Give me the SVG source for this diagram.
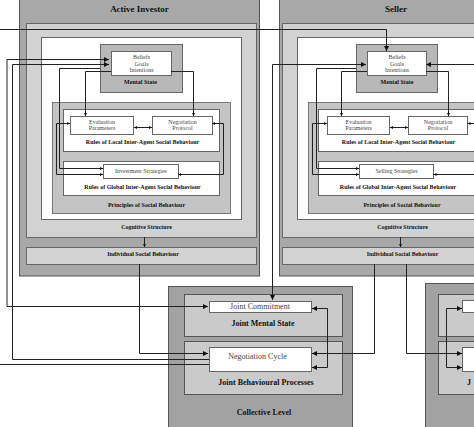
<svg xmlns="http://www.w3.org/2000/svg" width="474" height="427" viewBox="0 0 474 427">
<defs>
<style>
.ag{fill:#a8a8a8;stroke:#555;stroke-width:1}
.cog{fill:#d2d2d2;stroke:#666;stroke-width:1}
.wh{fill:#fff;stroke:#666;stroke-width:1}
.ms{fill:#b8b8b8;stroke:#666;stroke-width:1}
.pr{fill:#c4c4c4;stroke:#777;stroke-width:1}
.col{fill:#a2a2a2;stroke:#555;stroke-width:1}
.jb{fill:#cacaca;stroke:#555;stroke-width:1}
text{font-family:"Liberation Serif","Times New Roman",serif;text-anchor:middle}
.lb{font-size:6px;font-weight:bold;fill:#111}
.tx{font-size:6px;fill:#444}
.ti{font-size:9px;font-weight:bold;fill:#111}
.cl{font-size:8px;font-weight:bold;fill:#111}
.ct{font-size:8px;fill:#444}
.cn{fill:none;stroke:#222;stroke-width:1}
</style>
<marker id="big" viewBox="0 0 10 10" refX="10" refY="5" markerWidth="6" markerHeight="5" markerUnits="userSpaceOnUse" orient="auto-start-reverse"><path d="M0,0 L10,5 L0,10 z" fill="#111"/></marker>
<marker id="sm" viewBox="0 0 10 10" refX="10" refY="5" markerWidth="3.5" markerHeight="3" markerUnits="userSpaceOnUse" orient="auto-start-reverse"><path d="M0,0 L10,5 L0,10 z" fill="#111"/></marker>
</defs>
<rect width="474" height="427" fill="#fff"/>

<g id="active-investor">
<rect class="ag" x="19.5" y="-2" width="240" height="278"/>
<text class="ti" x="139.5" y="11.5">Active Investor</text>
<g id="ai-cognitive-structure">
<rect class="cog" x="26.5" y="23.5" width="230" height="214"/>
<rect class="wh" x="41.5" y="37.5" width="200" height="182"/>
<text class="lb" x="146.5" y="229">Cognitive Structure</text>
</g>
<g id="ai-mental-state">
<rect class="ms" x="100.5" y="44.5" width="82" height="48"/>
<text class="lb" x="140.5" y="84">Mental State</text>
</g>
<g id="ai-beliefs">
<rect class="wh" x="111.5" y="51.5" width="60" height="24"/>
<text class="tx" x="141.5" y="59">Beliefs</text>
<text class="tx" x="141.5" y="65.5">Goals</text>
<text class="tx" x="141.5" y="72">Intentions</text>
</g>
<g id="ai-principles">
<rect class="pr" x="52.5" y="102.5" width="178" height="111"/>
<text class="lb" x="146.5" y="207">Principles of Social Behaviour</text>
</g>
<g id="ai-rules-local">
<rect class="wh" x="63.5" y="109.5" width="156" height="42"/>
<text class="lb" x="142.5" y="144">Rules of Local Inter-Agent Social Behaviour</text>
</g>
<g id="ai-evaluation">
<rect class="wh" x="70.5" y="116.5" width="63" height="18"/>
<text class="tx" x="102" y="124">Evaluation</text>
<text class="tx" x="102" y="130">Parameters</text>
</g>
<g id="ai-negotiation">
<rect class="wh" x="152.5" y="116.5" width="60" height="18"/>
<text class="tx" x="182.5" y="124">Negotiation</text>
<text class="tx" x="182.5" y="130">Protocol</text>
</g>
<g id="ai-rules-global">
<rect class="wh" x="63.5" y="161.5" width="156" height="34"/>
<text class="lb" x="142.5" y="189">Rules of Global Inter-Agent Social Behaviour</text>
</g>
<g id="ai-investment">
<rect class="wh" x="103.5" y="164.5" width="75" height="14"/>
<text class="tx" x="141" y="173">Investment Strategies</text>
</g>
<g id="ai-individual">
<rect class="cog" x="26.5" y="247.5" width="230" height="17"/>
<text class="lb" x="143" y="256">Individual Social Behaviour</text>
</g>
</g>

<g id="seller">
<rect class="ag" x="279.5" y="-2" width="240" height="278"/>
<text class="ti" x="396" y="11.5">Seller</text>
<g id="s-cognitive-structure">
<rect class="cog" x="282.5" y="23.5" width="230" height="214"/>
<rect class="wh" x="297.5" y="37.5" width="200" height="182"/>
<text class="lb" x="402.5" y="229">Cognitive Structure</text>
</g>
<g id="s-mental-state">
<rect class="ms" x="356.5" y="44.5" width="81" height="48"/>
<text class="lb" x="397" y="84">Mental State</text>
</g>
<g id="s-beliefs">
<rect class="wh" x="367.5" y="51.5" width="59" height="24"/>
<text class="tx" x="397" y="59">Beliefs</text>
<text class="tx" x="397" y="65.5">Goals</text>
<text class="tx" x="397" y="72">Intentions</text>
</g>
<g id="s-principles">
<rect class="pr" x="308.5" y="102.5" width="178" height="111"/>
<text class="lb" x="402" y="207">Principles of Social Behaviour</text>
</g>
<g id="s-rules-local">
<rect class="wh" x="318.5" y="109.5" width="160" height="42"/>
<text class="lb" x="398.5" y="144">Rules of Local Inter-Agent Social Behaviour</text>
</g>
<g id="s-evaluation">
<rect class="wh" x="327.5" y="116.5" width="62" height="18"/>
<text class="tx" x="358.5" y="124">Evaluation</text>
<text class="tx" x="358.5" y="130">Parameters</text>
</g>
<g id="s-negotiation">
<rect class="wh" x="408.5" y="116.5" width="59" height="18"/>
<text class="tx" x="438" y="124">Negotiation</text>
<text class="tx" x="438" y="130">Protocol</text>
</g>
<g id="s-rules-global">
<rect class="wh" x="318.5" y="161.5" width="160" height="34"/>
<text class="lb" x="398" y="189">Rules of Global Inter-Agent Social Behaviour</text>
</g>
<g id="s-selling">
<rect class="wh" x="359.5" y="164.5" width="74" height="14"/>
<text class="tx" x="396.5" y="173">Selling Strategies</text>
</g>
<g id="s-individual">
<rect class="cog" x="282.5" y="247.5" width="230" height="17"/>
<text class="lb" x="402.5" y="256">Individual Social Behaviour</text>
</g>
</g>

<g id="collective-level">
<rect class="col" x="168.5" y="286.5" width="184" height="145"/>
<text class="cl" x="264" y="415">Collective Level</text>
<g id="joint-mental-state">
<rect class="jb" x="184.5" y="294.5" width="158" height="42"/>
<text class="cl" x="263" y="326">Joint Mental State</text>
</g>
<g id="joint-commitment">
<rect class="wh" x="209.5" y="301.5" width="102" height="11"/>
<text class="ct" x="260" y="309">Joint Commitment</text>
</g>
<g id="joint-behavioural-processes">
<rect class="jb" x="184.5" y="341.5" width="158" height="53"/>
<text class="cl" x="266" y="385">Joint Behavioural Processes</text>
</g>
<g id="negotiation-cycle">
<rect class="wh" x="209.5" y="347.5" width="102" height="24"/>
<text class="ct" x="257.5" y="359">Negotiation Cycle</text>
</g>
</g>

<g id="collective-level-2">
<rect class="col" x="425.5" y="283.5" width="184" height="150"/>
<g id="joint-mental-state-2">
<rect class="jb" x="438.5" y="294.5" width="158" height="42"/>
</g>
<g id="joint-commitment-2">
<rect class="wh" x="462.5" y="300.5" width="102" height="12"/>
</g>
<g id="joint-behavioural-processes-2">
<rect class="jb" x="438.5" y="341.5" width="158" height="53"/>
<text class="cl" x="467" y="385" style="text-anchor:start">J</text>
</g>
<g id="negotiation-cycle-2">
<rect class="wh" x="462.5" y="347.5" width="102" height="24"/>
</g>
</g>

<g id="connectors">
<path class="cn" d="M0 29.5 H386.5 V51" marker-end="url(#big)"/>
<path class="cn" d="M208 306.5 H7 V59.5 H109" marker-start="url(#big)" marker-end="url(#big)"/>
<path class="cn" d="M209 359.5 H12.5 V64.5 H109" marker-end="url(#big)"/>
<path class="cn" d="M0 364.5 H209"/>
<path class="cn" d="M111 71.5 H85.5 V116" marker-end="url(#sm)"/>
<path class="cn" d="M171 71.5 H193.5 V116" marker-end="url(#sm)"/>
<path class="cn" d="M100 68.5 H59.5 V168.5 H103" marker-end="url(#sm)"/>
<path class="cn" d="M70 123.5 H56.5 V174.5 H103" marker-start="url(#sm)" marker-end="url(#sm)"/>
<path class="cn" d="M212 123.5 H223.5 V174.5 H178" marker-start="url(#sm)" marker-end="url(#sm)"/>
<path class="cn" d="M134 127.5 H152" marker-start="url(#sm)" marker-end="url(#sm)"/>
<path class="cn" d="M144.5 237 V247" marker-end="url(#sm)"/>
<path class="cn" d="M139.5 264 V353.5 H208" marker-end="url(#big)"/>

<path class="cn" d="M366 64.5 H272.5 V300" marker-start="url(#big)" marker-end="url(#big)"/>
<path class="cn" d="M474 64.5 H426" marker-end="url(#big)"/>
<path class="cn" d="M367 71.5 H341.5 V116" marker-end="url(#sm)"/>
<path class="cn" d="M426 71.5 H448.5 V116" marker-end="url(#sm)"/>
<path class="cn" d="M356 68.5 H316.5 V168.5 H359" marker-end="url(#sm)"/>
<path class="cn" d="M327 123.5 H312.5 V174.5 H359" marker-start="url(#sm)" marker-end="url(#sm)"/>
<path class="cn" d="M474 123.5 H467.5" marker-end="url(#sm)"/>
<path class="cn" d="M474 174.5 H433.5" marker-end="url(#sm)"/>
<path class="cn" d="M390 127.5 H408" marker-start="url(#sm)" marker-end="url(#sm)"/>
<path class="cn" d="M400.5 237 V247" marker-end="url(#sm)"/>
<path class="cn" d="M374.5 264 V353.5 H312" marker-end="url(#big)"/>
<path class="cn" d="M406.5 264 V353.5 H462" marker-end="url(#big)"/>

<path class="cn" d="M312 308.5 H327.5 V367.5 H312" marker-start="url(#big)" marker-end="url(#big)"/>
<path class="cn" d="M462 308.5 H446.5 V367.5 H462" marker-start="url(#big)" marker-end="url(#big)"/>
</g>
</svg>
